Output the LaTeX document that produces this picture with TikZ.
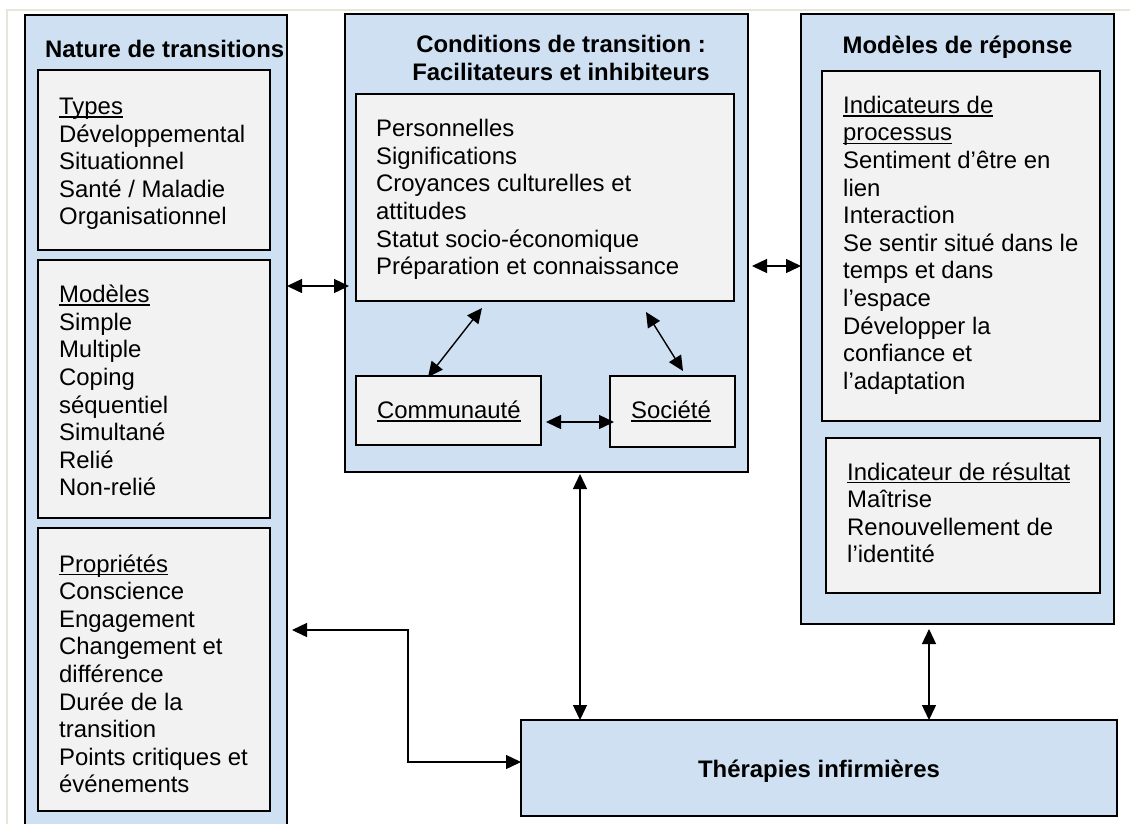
\documentclass[tikz,border=0pt]{standalone}
\usepackage{fontspec}
\setmainfont{Liberation Sans}
\usetikzlibrary{arrows.meta,calc}
\definecolor{boxblue}{RGB}{206,224,242}
\definecolor{boxgray}{RGB}{242,242,242}
\definecolor{pageline}{RGB}{232,230,216}
\newcommand\wul[1]{\setbox0\hbox{#1}\rlap{\rule[-3.2pt]{\wd0}{1.5pt}}\box0}
\begin{document}
\begin{tikzpicture}[x=1pt,y=-1pt,
  outerbox/.style={draw, line width=1.4pt, fill=boxblue, inner sep=0pt, outer sep=0pt, anchor=north west},
  innerbox/.style={draw, line width=1.4pt, fill=boxgray, inner sep=0pt, outer sep=0pt, anchor=north west},
  txt/.style={inner sep=0pt, anchor=base west, align=left, font=\fontsize{23.9}{27.6}\selectfont},
  ttl/.style={inner sep=0pt, anchor=base, align=center, font=\fontsize{23.9}{27.6}\selectfont\bfseries},
  biarrow/.style={line width=1.4pt, {Triangle[length=15pt,width=14pt]}-{Triangle[length=15pt,width=14pt]}}]
\useasboundingbox (0,0) rectangle (1130,823);
\clip (0,0) rectangle (1130,823);
\fill[white] (0,0) rectangle (1130,823);
\draw[pageline, line width=1.5pt] (7,830) -- (7,10) -- (1135,10);

% outer boxes
\node[outerbox, minimum width=262pt, minimum height=830pt] (nature) at (25,15) {};
\node[outerbox, minimum width=403pt, minimum height=458pt] (cond) at (345,14) {};
\node[outerbox, minimum width=313pt, minimum height=610pt] (reponse) at (801,14) {};
\node[outerbox, minimum width=596pt, minimum height=96pt] (ther) at (521,720) {};

% inner boxes
\node[innerbox, minimum width=232pt, minimum height=180pt] (types) at (38,70) {};
\node[innerbox, minimum width=232pt, minimum height=258pt] (modeles) at (38,260) {};
\node[innerbox, minimum width=232pt, minimum height=283pt] (props) at (38,528) {};
\node[innerbox, minimum width=378pt, minimum height=207pt] (pers) at (356,94) {};
\node[innerbox, minimum width=185pt, minimum height=69pt] (comm) at (356,376) {};
\node[innerbox, minimum width=125pt, minimum height=71pt] (soc) at (610,376) {};
\node[innerbox, minimum width=278pt, minimum height=350pt] (proc) at (822,71) {};
\node[innerbox, minimum width=274pt, minimum height=155pt] (result) at (826,438) {};

% titles (anchor = baseline of last line)
\node[ttl, anchor=base west] (t-nature) at (45,57) {Nature de transitions};
\node[ttl] (t-cond) at (561,80.3) {Conditions de transition :\\Facilitateurs et inhibiteurs};
\node[ttl] (t-reponse) at (957.5,53.3) {Modèles de réponse};
\node[ttl] (t-ther) at (819,777.3) {Thérapies infirmières};

% texts (anchor = baseline of last line)
\node[txt] (x-types) at (59,224.9) {\wul{Types}\\Développemental\\Situationnel\\Santé / Maladie\\Organisationnel};
\node[txt] (x-modeles) at (59,495.9) {\wul{Modèles}\\Simple\\Multiple\\Coping\\séquentiel\\Simultané\\Relié\\Non-relié};
\node[txt] (x-props) at (59,792.8) {\wul{Propriétés}\\Conscience\\Engagement\\Changement et\\différence\\Durée de la\\transition\\Points critiques et\\événements};
\node[txt] (x-pers) at (376,274.7) {Personnelles\\Significations\\Croyances culturelles et\\attitudes\\Statut socio-économique\\Préparation et connaissance};
\node[txt] (x-comm) at (377,418.3) {\wul{Communauté}};
\node[txt] (x-soc) at (631,418.3) {\wul{Société}};
\node[txt] (x-proc) at (843,389.3) {\wul{Indicateurs de}\\\wul{processus}\\Sentiment d’être en\\lien\\Interaction\\Se sentir situé dans le\\temps et dans\\l’espace\\Développer la\\confiance et\\l’adaptation};
\node[txt] (x-result) at (847,562.8) {\wul{Indicateur de résultat}\\Maîtrise\\Renouvellement de\\l’identité};

% helper coordinates
\coordinate (a1) at (0,286);
\coordinate (a2) at (0,266);
\coordinate (v1) at (580,0);
\coordinate (v2) at (929,0);
\coordinate (e1) at (0,762);
\coordinate (e2) at (408,0);
\coordinate (e3) at (0,630);

% connectors
\draw[biarrow, shorten >=-4pt] (nature.east |- a1) -- (cond.west |- a1);
\draw[biarrow, shorten <=4pt] (cond.east |- a2) -- (reponse.west |- a2);
\draw[biarrow] ($(pers.south west)+(126,7)$) -- ($(comm.north west)+(72,1)$);
\draw[biarrow] ($(pers.south west)+(290,11)$) -- ($(soc.north west)+(73,-5)$);
\draw[biarrow] ($(comm.east)+(5,11.5)$) -- ($(soc.west)+(4,10.5)$);
\draw[biarrow, shorten <=2pt] (cond.south -| v1) -- (ther.north -| v1);
\draw[biarrow, shorten <=5pt] (reponse.south -| v2) -- (ther.north -| v2);
\draw[biarrow, shorten <=5pt] (nature.east |- e3) -| (e2 |- e1) -- (ther.west |- e1);
\end{tikzpicture}
\end{document}
